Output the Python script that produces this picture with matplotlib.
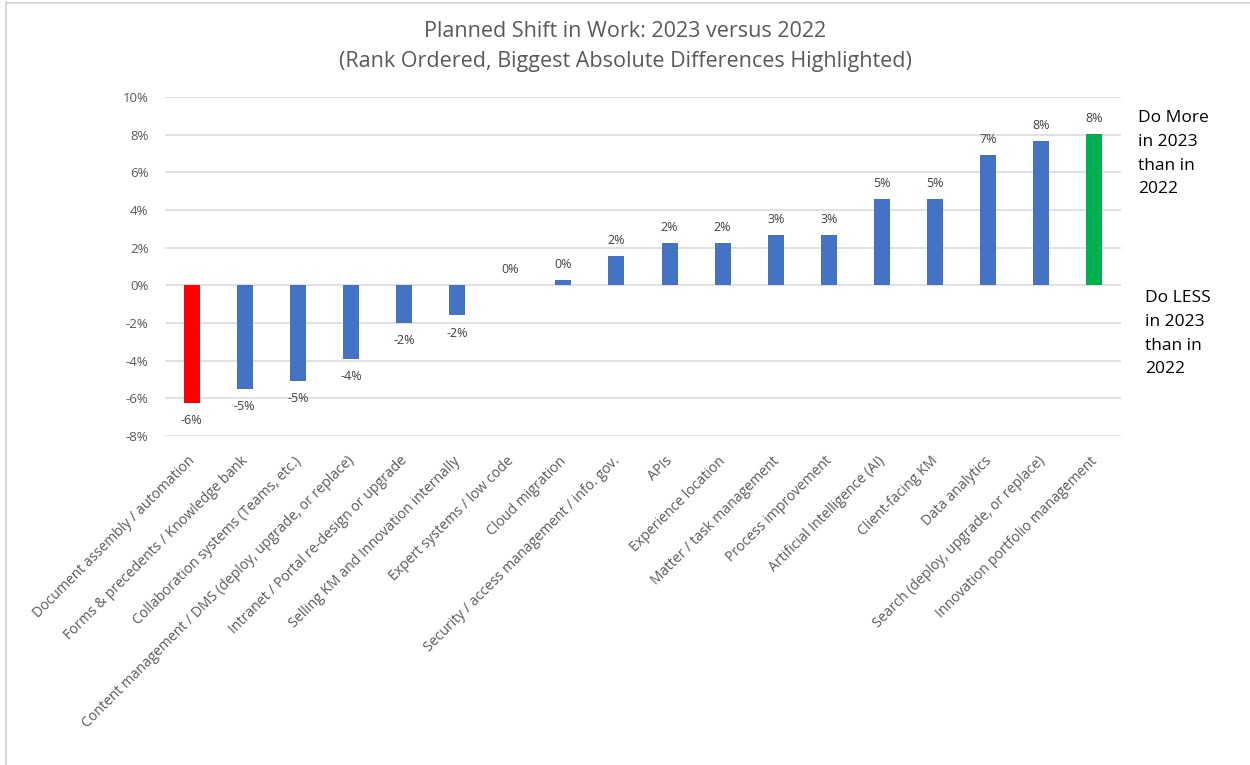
import matplotlib
matplotlib.use("Agg")
import matplotlib.pyplot as plt
import matplotlib.transforms as mtransforms
from matplotlib.lines import Line2D
from matplotlib.ticker import FuncFormatter

categories = [
    "Document assembly / automation",
    "Forms & precedents / Knowledge bank",
    "Collaboration systems (Teams, etc.)",
    "Content management / DMS (deploy, upgrade, or replace)",
    "Intranet / Portal re-design or upgrade",
    "Selling KM and Innovation internally",
    "Expert systems / low code",
    "Cloud migration",
    "Security / access management / info. gov.",
    "APIs",
    "Experience location",
    "Matter / task management",
    "Process improvement",
    "Artificial Intelligence (AI)",
    "Client-facing KM",
    "Data analytics",
    "Search (deploy, upgrade, or replace)",
    "Innovation portfolio management",
]
shift = [-0.0625, -0.0549, -0.051, -0.039, -0.020, -0.016, 0.0, 0.003,
         0.0155, 0.0225, 0.0225, 0.0265, 0.0265, 0.046, 0.046, 0.069,
         0.0767, 0.0806]
yticks = [-0.08, -0.06, -0.04, -0.02, 0.0, 0.02, 0.04, 0.06, 0.08, 0.10]

BLUE = "#4472C4"
RED = "#FF0000"
GREEN = "#00B050"
colors = [BLUE] * len(shift)
colors[0] = RED
colors[-1] = GREEN

plt.rcParams["font.family"] = ["Open Sans", "DejaVu Sans"]

W, H = 1250, 765
fig = plt.figure(figsize=(W / 100, H / 100), dpi=100)
ax = fig.add_axes([165 / W, 1 - 436 / H, (1121 - 165) / W, (436 - 97) / H])

x = list(range(len(categories)))
ax.bar(x, shift, width=0.3, color=colors, zorder=3)
ax.set_xlim(-0.5, len(categories) - 0.5)
ax.set_ylim(-0.08, 0.10)
ax.set_yticks(yticks)
ax.yaxis.set_major_formatter(FuncFormatter(lambda v, p: f"{v*100:.0f}%"))
ax.tick_params(axis="y", length=0, pad=12, labelsize=9.5, labelcolor="#595959")
ax.tick_params(axis="x", length=0)
ax.grid(axis="y", color="#D9D9D9", linewidth=1.1, zorder=0)
for s in ax.spines.values():
    s.set_visible(False)

# category labels, rotated so their ends sit just under the bars
ax.set_xticks(x)
ax.set_xticklabels(categories, rotation=45, ha="right", va="center",
                   rotation_mode="anchor", fontsize=10.1, color="#595959")
offset = mtransforms.ScaledTranslation(1 / 100, -18 / 100, fig.dpi_scale_trans)
for lab in ax.get_xticklabels():
    lab.set_transform(lab.get_transform() + offset)

# value labels
for xi, v in zip(x, shift):
    txt = f"{round(v*100):.0f}%"
    if v < 0:
        ax.annotate(txt, (xi, v), xytext=(0, -8), textcoords="offset points",
                    ha="center", va="top", fontsize=9, color="#404040")
    else:
        ax.annotate(txt, (xi, v), xytext=(0, 6.5), textcoords="offset points",
                    ha="center", va="bottom", fontsize=9, color="#404040")

fig.text(0.5, 1 - 37 / H, "Planned Shift in Work: 2023 versus 2022",
         ha="center", va="baseline", fontsize=15.5, color="#595959")
fig.text(0.5, 1 - 67 / H, "(Rank Ordered, Biggest Absolute Differences Highlighted)",
         ha="center", va="baseline", fontsize=15.5, color="#595959")

fig.text(1138 / W, 1 - 110 / H, "Do More\nin 2023\nthan in\n2022",
         ha="left", va="top", fontsize=12.5, color="#000000", linespacing=1.65)
fig.text(1145 / W, 1 - 290 / H, "Do LESS\nin 2023\nthan in\n2022",
         ha="left", va="top", fontsize=12.5, color="#000000", linespacing=1.65)

# chart area border (top and left edges)
fig.add_artist(Line2D([6 / W, 6 / W], [0, 1 - 2 / H], transform=fig.transFigure,
                      color="#D9D9D9", linewidth=1.5))
fig.add_artist(Line2D([6 / W, 1], [1 - 2.5 / H, 1 - 2.5 / H], transform=fig.transFigure,
                      color="#D9D9D9", linewidth=1.5))

fig.savefig("out.png", dpi=100, facecolor="white")
